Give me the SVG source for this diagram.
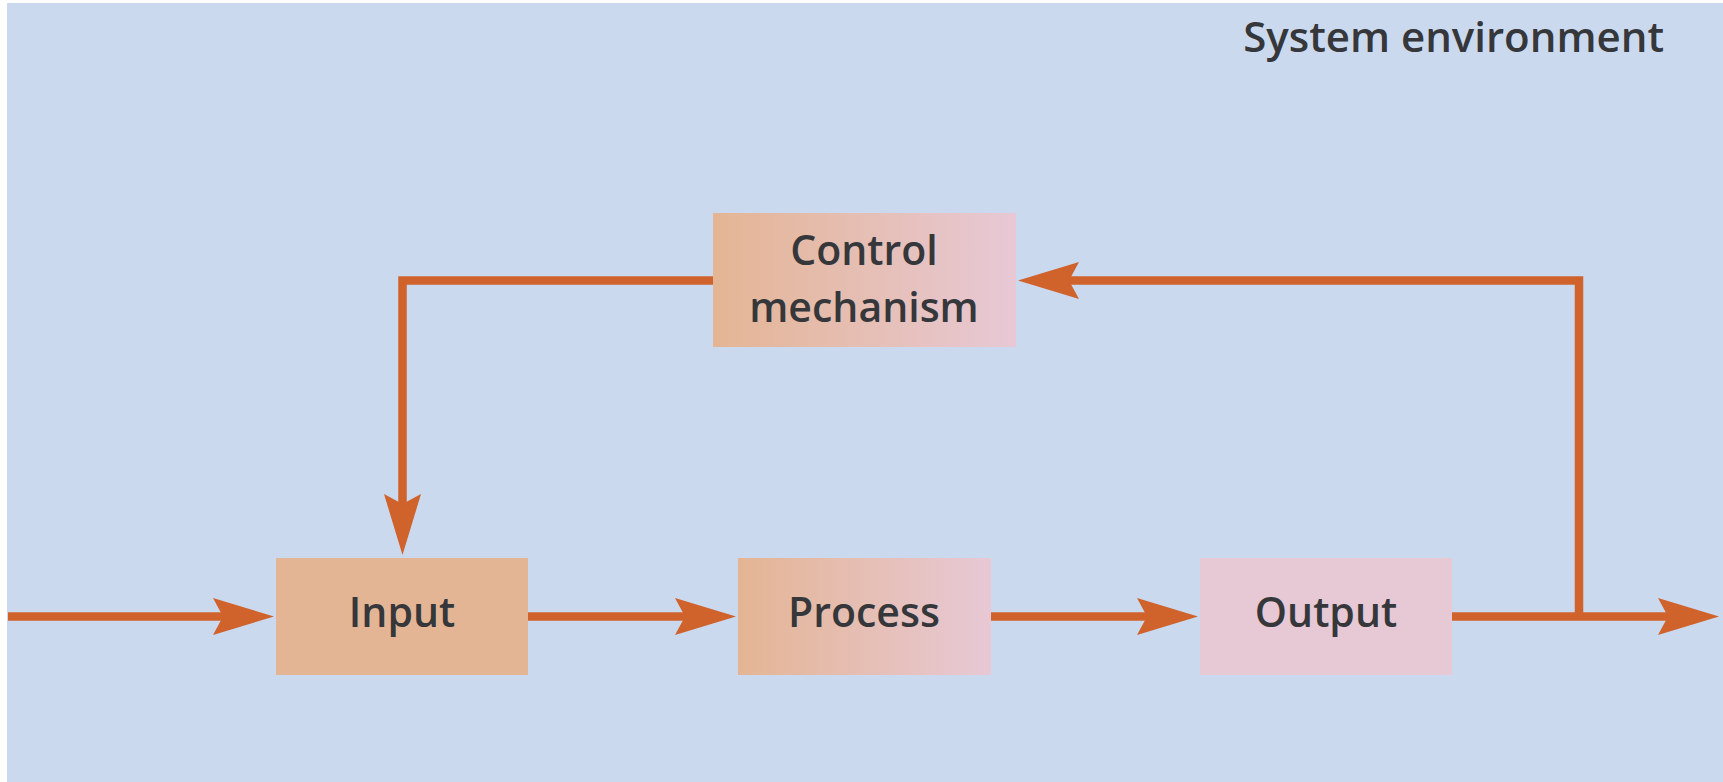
<svg xmlns="http://www.w3.org/2000/svg" width="1723" height="782" viewBox="0 0 1723 782">
  <style>
    .label { font-family: "Open Sans", "Liberation Sans", sans-serif; font-weight: 600; font-size: 41px; fill: #35373a; text-anchor: middle; }
    .box { stroke: none; }
    .flow { fill: none; stroke: #d0622b; stroke-width: 8.5; stroke-linejoin: miter; marker-end: url(#head); }
  </style>
  <defs>
    <linearGradient id="warm" x1="0" y1="0" x2="1" y2="0">
      <stop offset="0" stop-color="#e4b594"/>
      <stop offset="1" stop-color="#e7c8d5"/>
    </linearGradient>
    <!-- barbed arrowhead: back at 0, notch at 10, tip at 61; line ends 41 short of the tip -->
    <marker id="head" markerUnits="userSpaceOnUse" viewBox="0 -20 62 40" refX="20" refY="0" markerWidth="62" markerHeight="40" orient="auto" overflow="visible">
      <path d="M0,-18.5 L61,0 L0,18.5 L10,0 Z" fill="#d0622b"/>
    </marker>
  </defs>

  <!-- environment panel -->
  <rect x="0" y="0" width="1723" height="782" fill="#ffffff"/>
  <rect id="environment" x="7" y="3" width="1716" height="779" fill="#cbd9ee"/>
  <text class="label" x="1664" y="52" style="text-anchor:end;font-size:42px">System environment</text>

  <!-- connectors -->
  <g id="connectors">
    <path class="flow" d="M8,616.5 H233"/>
    <path class="flow" d="M528,616.5 H695"/>
    <path class="flow" d="M991,616.5 H1157"/>
    <path class="flow" d="M1452,616.5 H1678"/>
    <path class="flow" d="M1579,616.5 V280.5 H1059"/>
    <path class="flow" d="M713,280.5 H402.5 V514"/>
  </g>

  <!-- nodes -->
  <g id="control">
    <rect class="box" x="713" y="213" width="303" height="134" fill="url(#warm)"/>
    <text class="label" x="864" y="265">Control</text>
    <text class="label" x="864" y="322">mechanism</text>
  </g>
  <g id="input">
    <rect class="box" x="276" y="558" width="252" height="117" fill="#e4b594"/>
    <text class="label" x="402" y="627">Input</text>
  </g>
  <g id="process">
    <rect class="box" x="738" y="558" width="253" height="117" fill="url(#warm)"/>
    <text class="label" x="864" y="627">Process</text>
  </g>
  <g id="output">
    <rect class="box" x="1200" y="558" width="252" height="117" fill="#e7c8d5"/>
    <text class="label" x="1326" y="627">Output</text>
  </g>
</svg>
